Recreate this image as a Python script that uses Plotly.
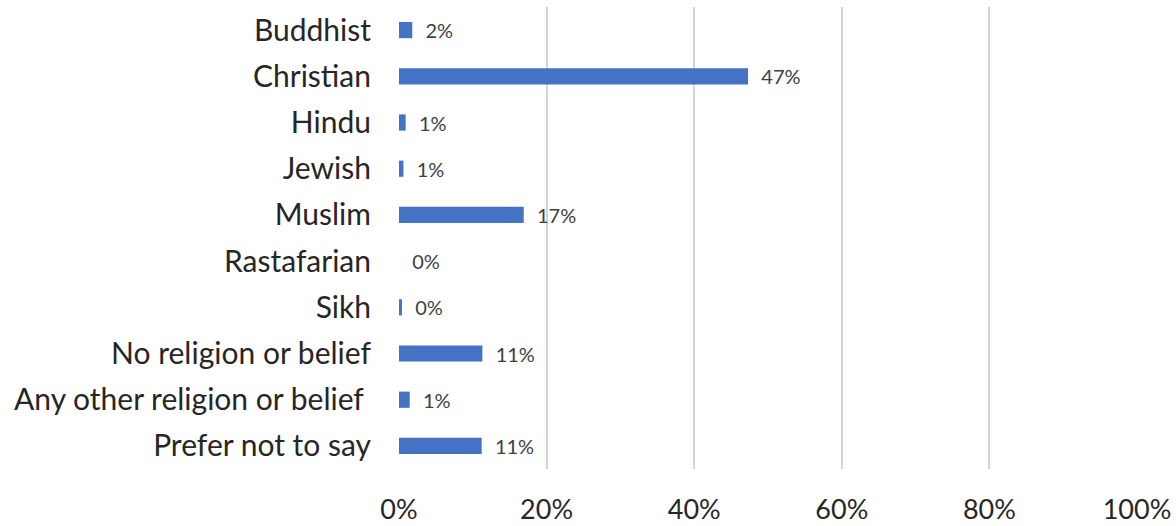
import plotly.graph_objects as go

# Religion or belief of respondents (share of total)
categories = [
    "Buddhist",
    "Christian",
    "Hindu",
    "Jewish",
    "Muslim",
    "Rastafarian",
    "Sikh",
    "No religion or belief",
    "Any other religion or belief\u00a0",
    "Prefer not to say",
]
shares = [0.018, 0.473, 0.009, 0.006, 0.169, 0.0, 0.004, 0.113, 0.0145, 0.112]
x_ticks = [0, 0.2, 0.4, 0.6, 0.8, 1.0]
x_tick_labels = ["0%", "20%", "40%", "60%", "80%", "100%"]

FONT = "Lato, 'Open Sans', sans-serif"

fig = go.Figure(
    go.Bar(
        x=shares,
        y=categories,
        orientation="h",
        marker=dict(color="#4472C4", line=dict(width=0)),
        texttemplate="  %{x:.0%}",
        textposition="outside",
        constraintext="none",
        cliponaxis=False,
        textfont=dict(family=FONT, size=20, color="#404040"),
        hoverinfo="skip",
    )
)

fig.update_layout(
    width=1176,
    height=526,
    margin=dict(l=399, r=39, t=7, b=57),
    paper_bgcolor="white",
    plot_bgcolor="white",
    bargap=0.65,
    showlegend=False,
    font=dict(family=FONT, color="#262626"),
)

fig.update_xaxes(
    range=[0, 1.0],
    tickvals=x_ticks,
    ticktext=x_tick_labels,
    showgrid=True,
    gridcolor="#D4D4D4",
    gridwidth=1.5,
    zeroline=False,
    showline=False,
    ticks="",
    ticklabelstandoff=22,
    tickfont=dict(family=FONT, size=27, color="#262626"),
    automargin=False,
    fixedrange=True,
)

fig.update_yaxes(
    categoryorder="array",
    categoryarray=categories,
    autorange="reversed",
    showgrid=False,
    zeroline=False,
    showline=False,
    ticks="",
    ticklabelstandoff=27,
    tickfont=dict(family=FONT, size=30, color="#262626"),
    automargin=False,
    fixedrange=True,
)

fig.write_html("out.html")
